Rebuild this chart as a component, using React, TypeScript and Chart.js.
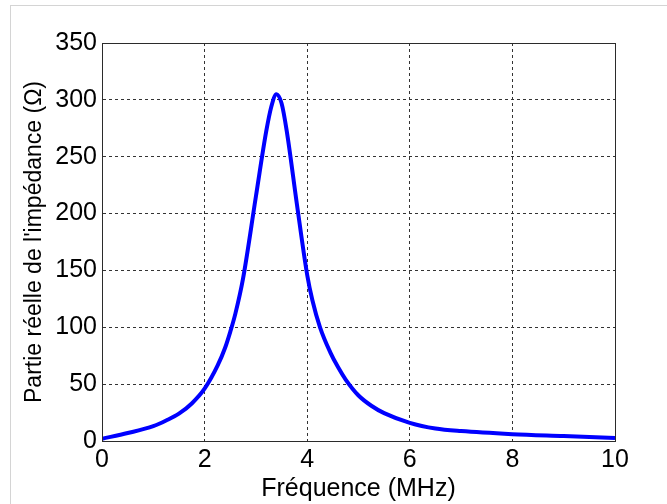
import React, { useEffect, useRef } from "react";
import { Chart, registerables } from "chart.js";

Chart.register(...registerables);

const freqMHz = [0, 0.5, 1, 1.25, 1.5, 1.75, 2, 2.25, 2.4, 2.5, 2.6, 2.75, 3, 3.2, 3.3, 3.4, 3.5, 3.6, 3.8, 4, 4.1, 4.25, 4.45, 4.6, 4.75, 5, 5.25, 5.5, 6, 6.5, 7, 8, 9, 10];
const realZ = [2, 7, 13, 18, 24, 33, 46, 66, 82, 96, 112, 143, 215, 272, 294, 305, 297, 273, 208, 146, 124, 100, 78, 65, 54, 40, 31, 24.5, 16, 11, 8.7, 6, 4.3, 2.6];
const xTicks = [0, 2, 4, 6, 8, 10];
const yTicks = [0, 50, 100, 150, 200, 250, 300, 350];
const xTitle = "Fréquence (MHz)";
const yTitle = "Partie réelle de l'impédance (Ω)";

const FONT = '"Liberation Sans", Arial, Helvetica, sans-serif';

const framePlugin = {
  id: "frameBox",
  afterDraw(chart: any) {
    const { ctx, chartArea } = chart;
    ctx.save();
    ctx.strokeStyle = "#2b2b2b";
    ctx.lineWidth = 1;
    ctx.setLineDash([]);
    ctx.strokeRect(
      Math.round(chartArea.left) + 0.5,
      Math.round(chartArea.top) + 0.5,
      Math.round(chartArea.right - chartArea.left),
      Math.round(chartArea.bottom - chartArea.top)
    );
    ctx.restore();
  },
};

export default function App() {
  const ref = useRef<HTMLCanvasElement | null>(null);
  useEffect(() => {
    document.body.style.margin = "0";
    const data = freqMHz.map((f, i) => ({ x: f, y: realZ[i] }));
    const chart = new Chart(ref.current as HTMLCanvasElement, {
      type: "line",
      data: {
        datasets: [
          {
            data,
            borderColor: "#0000ff",
            borderWidth: 4,
            pointRadius: 0,
            fill: false,
            cubicInterpolationMode: "monotone",
          },
        ],
      },
      options: {
        animation: false,
        responsive: false,
        maintainAspectRatio: false,
        layout: { padding: { top: 43, right: 52, left: 0, bottom: 0 } },
        plugins: { legend: { display: false }, tooltip: { enabled: false } },
        scales: {
          x: {
            type: "linear",
            min: 0,
            max: 10,
            afterBuildTicks: (s: any) => {
              s.ticks = xTicks.map((v) => ({ value: v }));
            },
            afterFit: (s: any) => {
              s.height = 63;
            },
            ticks: {
              color: "#000",
              font: { family: FONT, size: 25 },
              padding: 4,
              maxRotation: 0,
              autoSkip: false,
            },
            grid: { color: "#333", lineWidth: 1, drawTicks: false },
            border: { display: true, color: "#2b2b2b", dash: [3, 3] },
            title: {
              display: true,
              text: xTitle,
              color: "#000",
              font: { family: FONT, size: 25 },
              padding: { top: 0, bottom: 0 },
            },
          },
          y: {
            type: "linear",
            min: 0,
            max: 350,
            afterBuildTicks: (s: any) => {
              s.ticks = yTicks.map((v) => ({ value: v }));
            },
            afterFit: (s: any) => {
              s.width = 102;
            },
            ticks: {
              color: "#000",
              font: { family: FONT, size: 25 },
              padding: 5,
              autoSkip: false,
            },
            grid: { color: "#333", lineWidth: 1, drawTicks: false },
            border: { display: true, color: "#2b2b2b", dash: [3, 3] },
            title: {
              display: true,
              text: yTitle,
              color: "#000",
              font: { family: FONT, size: 23 },
              padding: { top: 21, bottom: 0 },
            },
          },
        },
      },
      plugins: [framePlugin],
    });
    return () => chart.destroy();
  }, []);

  return (
    <div style={{ position: "fixed", left: 0, top: 0, width: 667, height: 504, background: "#fff" }}>
      <div
        style={{
          position: "absolute",
          left: 10,
          top: 5,
          width: 700,
          height: 600,
          borderLeft: "1px solid #d4d4d4",
          borderTop: "1px solid #d4d4d4",
          boxSizing: "border-box",
        }}
      />
      <canvas ref={ref} width={667} height={504} style={{ position: "absolute", left: 0, top: 0 }} />
    </div>
  );
}
